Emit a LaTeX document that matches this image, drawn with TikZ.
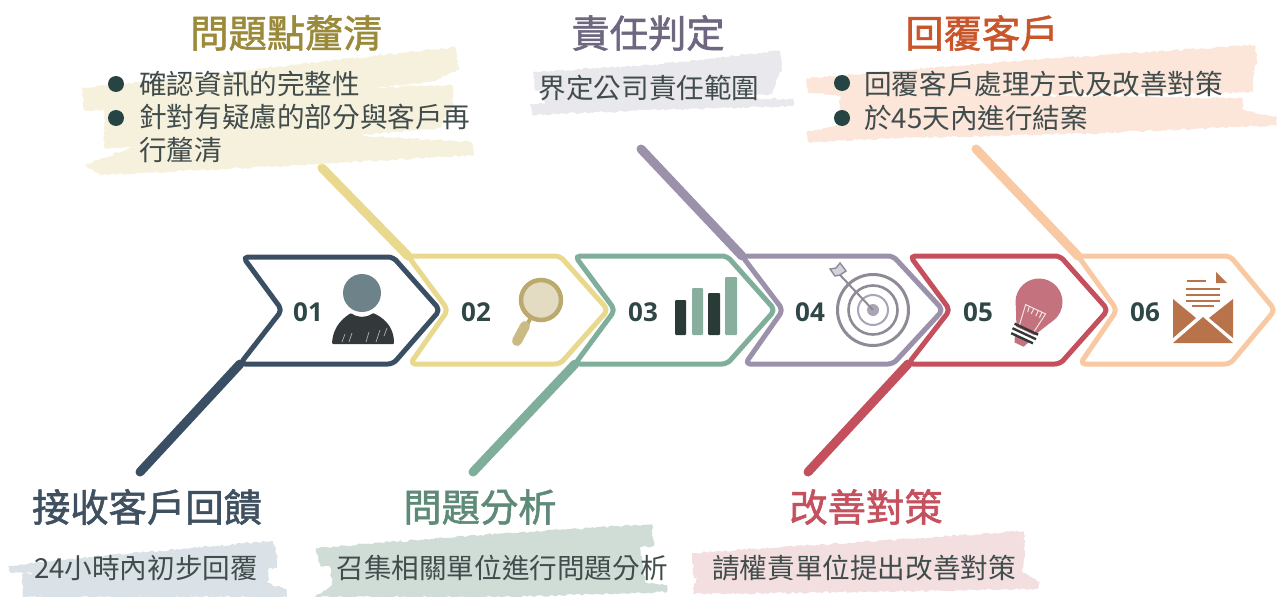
\documentclass[tikz,border=0pt]{standalone}
\usepackage{fontspec}
\usetikzlibrary{decorations.pathmorphing}
\newfontfamily\cjkf{Noto Sans CJK TC}
\newfontfamily\cjkm[FakeBold=1.5]{Noto Sans CJK TC}
\newfontfamily\numf{Open Sans}
\definecolor{cBlue}{HTML}{3A4F63}
\definecolor{cYel}{HTML}{E8D98F}
\definecolor{cGrn}{HTML}{7FAE9B}
\definecolor{cPur}{HTML}{9C91AA}
\definecolor{cRed}{HTML}{C4505E}
\definecolor{cOra}{HTML}{F8C9A2}
\definecolor{bYel}{HTML}{F6F1DC}
\definecolor{bPur}{HTML}{E9E8EC}
\definecolor{bOra}{HTML}{FBE6D9}
\definecolor{bBlue}{HTML}{DAE2E7}
\definecolor{bGrn}{HTML}{D0DDD7}
\definecolor{bRed}{HTML}{F4DFE0}
\definecolor{txtd}{HTML}{414C4C}
\definecolor{numc}{HTML}{2F4746}
\definecolor{bull}{HTML}{264443}
\definecolor{iHead}{HTML}{6E828A}
\definecolor{iBody}{HTML}{33393B}
\definecolor{iRing}{HTML}{BBAA6E}
\definecolor{iGlass}{HTML}{E3DCC2}
\definecolor{iHand}{HTML}{C9BB83}
\definecolor{iDark}{HTML}{2A3A36}
\definecolor{iLight}{HTML}{88AF9E}
\definecolor{iTgt}{HTML}{8F8A96}
\definecolor{iDot}{HTML}{A9A5B5}
\definecolor{iBulb}{HTML}{C4737E}
\definecolor{iEnv}{HTML}{B8734A}
\definecolor{tYel}{HTML}{9A8A3A}
\definecolor{tPur}{HTML}{6F6680}
\definecolor{tOra}{HTML}{C9562A}
\definecolor{tBlue}{HTML}{3F5060}
\definecolor{tGrn}{HTML}{5F8A78}
\definecolor{tRed}{HTML}{C5505E}
\tikzset{
  chev/.style={line width=5pt,rounded corners=5pt,line join=round},
  tailline/.style={line width=9pt,line cap=round},
  brush/.style={decorate,decoration={random steps,segment length=2.5pt,amplitude=1.1pt}},
  ttl/.style={inner sep=0pt,font=\cjkm\fontsize{38.3}{42}\selectfont},
  bodyt/.style={inner sep=0pt,text=txtd,font=\cjkf\fontsize{27.6}{31}\selectfont},
  numt/.style={inner sep=0pt,text=numc,font=\numf\bfseries\fontsize{26}{29}\selectfont},
  bulletdot/.style={circle,inner sep=0pt,minimum size=16pt,fill=bull},
}
\begin{document}
\begin{tikzpicture}[x=1pt,y=-1pt]
\useasboundingbox (0,0) rectangle (1277,597);
\fill[white] (0,0) rectangle (1277,597);
\pgfmathsetseed{11}
% tail ends
\coordinate (e1) at (140,472);
\coordinate (e2) at (322,168);
\coordinate (e3) at (473,472);
\coordinate (e4) at (641,149);
\coordinate (e5) at (808,472);
\coordinate (e6) at (976,149);
% chevron join points
\coordinate (j1) at (240,364);
\coordinate (j2) at (408,256);
\coordinate (j3) at (575,364);
\coordinate (j4) at (742,256);
\coordinate (j5) at (908,364);
\coordinate (j6) at (1078,256);
% tails under the brushes
\draw[tailline,cYel] (j2) -- (e2);
% brushes
\fill[bYel,brush] (82,88) -- (180,78) -- (320,62) -- (455,47) -- (459,70) -- (430,82) -- (300,96) -- (150,110) -- (84,110) -- cycle;
\fill[bYel,brush] (105,105) -- (300,90) -- (452,85) -- (454,105) -- (440,128) -- (300,140) -- (104,148) -- cycle;
\fill[bYel,brush] (84,165) -- (130,148) -- (300,132) -- (472,142) -- (474,155) -- (300,165) -- (100,175) -- cycle;
\fill[bPur,brush] (533,72) -- (650,65) -- (780,51) -- (782,70) -- (765,82) -- (640,92) -- (535,90) -- cycle;
\fill[bPur,brush] (540,86) -- (780,72) -- (772,94) -- (650,102) -- (545,106) -- cycle;
\fill[bPur,brush] (530,104) -- (650,98) -- (793,99) -- (793,106) -- (650,110) -- (532,115) -- cycle;
\fill[bOra,brush] (807,78) -- (1000,62) -- (1255,45) -- (1257,62) -- (1253,76) -- (1253,92) -- (1000,95) -- (840,96) -- (808,93) -- cycle;
\fill[bOra,brush] (840,94) -- (1243,98) -- (1243,110) -- (1277,117) -- (1277,125) -- (1100,133) -- (900,138) -- (808,142) -- (806,132) -- (840,125) -- cycle;
\fill[bBlue,brush] (8,566) -- (100,556) -- (273,541) -- (277,555) -- (277,568) -- (100,576) -- (10,572) -- cycle;
\fill[bBlue,brush] (22,574) -- (268,566) -- (268,583) -- (287,590) -- (287,597) -- (23,597) -- cycle;
\fill[bGrn,brush] (316,548) -- (480,535) -- (652,524) -- (654,546) -- (500,562) -- (320,566) -- cycle;
\fill[bGrn,brush] (330,562) -- (640,545) -- (645,582) -- (667,585) -- (667,592) -- (500,597) -- (315,597) -- (332,585) -- cycle;
\fill[bRed,brush] (692,553) -- (860,542) -- (1024,531) -- (1025,552) -- (1021,577) -- (850,582) -- (694,578) -- cycle;
\fill[bRed,brush] (700,574) -- (1021,572) -- (1040,582) -- (1037,589) -- (850,592) -- (693,594) -- (694,584) -- cycle;
% chevrons and tails
\draw[chev,cYel] (j2) -- (560,256) -- (608,310) -- (560,364) -- (410,364) -- (448,310) -- cycle;
\draw[chev,cBlue] (243,257) -- (393,257) -- (440,310) -- (393,364) -- (j1) -- (282,310) -- cycle;
\draw[tailline,cBlue] (j1) -- (e1);
\draw[chev,cGrn] (575,256) -- (727,256) -- (775,310) -- (727,364) -- (j3) -- (615,310) -- cycle;
\draw[tailline,cGrn] (j3) -- (e3);
\draw[chev,cPur] (j4) -- (893,256) -- (943,310) -- (893,364) -- (745,364) -- (783,310) -- cycle;
\draw[tailline,cPur] (j4) -- (e4);
\draw[chev,cOra] (j6) -- (1230,256) -- (1275,310) -- (1230,364) -- (1080,364) -- (1117,310) -- cycle;
\draw[tailline,cOra] (j6) -- (e6);
\draw[chev,cRed] (910,256) -- (1060,256) -- (1108,310) -- (1060,364) -- (j5) -- (950,310) -- cycle;
\draw[tailline,cRed] (j5) -- (e5);
% numbers
\node[numt] (n1) at (308,312) {01};
\node[numt] (n2) at (476,312) {02};
\node[numt] (n3) at (643,312) {03};
\node[numt] (n4) at (810,312) {04};
\node[numt] (n5) at (978,312) {05};
\node[numt] (n6) at (1145,312) {06};
% icon 01: person
\fill[iHead] (362,293) circle[radius=19pt];
\fill[iBody,rounded corners=1pt] (332,344) .. controls (333,325) and (345,317) .. (351,313) .. controls (358,318) and (366,318) .. (373,313) .. controls (382,317) and (394,325) .. (394,344) -- cycle;
\draw[white,line width=0.7pt,opacity=.6] (342,342) -- (345,334) (349,342) -- (352,333) (366,342) -- (369,332) (376,342) -- (380,330) (384,336) -- (387,328);
% icon 02: magnifier
\draw[iRing,fill=iGlass,line width=4.5pt] (541,300) circle[radius=20pt];
\draw[iRing,line width=4pt] (530,319) -- (527,325);
\draw[iHand,line width=10pt,line cap=round] (525,326) -- (517,341);
% icon 03: bars
\fill[iDark,rounded corners=1pt] (675,300) rectangle (686,335);
\fill[iLight,rounded corners=1pt] (692,288) rectangle (703,335);
\fill[iDark,rounded corners=1pt] (708,293) rectangle (720,335);
\fill[iLight,rounded corners=1pt] (725,277) rectangle (737,335);
% icon 04: target
\draw[iTgt,line width=3pt] (873,310) circle[radius=35.5pt];
\draw[iTgt,line width=2.6pt] (873,310) circle[radius=24.5pt];
\draw[iDot,line width=2pt] (873,310) circle[radius=15pt];
\fill[iDot] (873,310) circle[radius=6pt];
\draw[iTgt,line width=2pt] (873,310) -- (840,275);
\draw[iTgt,fill=iDot!50,line width=1.4pt] (840,275) -- (846,271) -- (840,263) -- (836,268) -- (830,269) -- (835,276) -- cycle;
% icon 05: bulb
\begin{scope}[shift={(1039,302)},rotate=-25]
  \fill[iBulb] (0,0) circle[radius=23.5pt];
  \fill[iBulb] (-20,12) -- (20,12) -- (10,32) -- (-10,32) -- cycle;
  \fill[iBulb] (-8,40) -- (8,40) -- (5,47) -- (-5,47) -- cycle;
  \draw[white,line width=1pt,opacity=.8] (-8,29) -- (-11,8) -- (11,8) -- (8,29);
  \draw[white,line width=1pt,opacity=.8] (-7,8) -- (-6,14) (-2,8) -- (-2,14) (3,8) -- (3,14) (7,8) -- (7,14);
  \draw[iBody,line width=2.4pt] (-13,30) -- (13,30) (-13,35) -- (13,35) (-12,40) -- (12,40);
\end{scope}
% icon 06: envelope
\fill[iEnv] (1173,299) -- (1196,318) -- (1173,338) -- cycle;
\fill[iEnv] (1233,299) -- (1209,318) -- (1233,338) -- cycle;
\fill[iEnv] (1173,343) -- (1203,317) -- (1233,343) -- cycle;
\fill[iEnv] (1216,272) -- (1227,283) -- (1216,283) -- cycle;
\draw[iEnv,line width=2.2pt] (1187,281) -- (1206,281) (1186,289) -- (1220,289) (1186,295) -- (1220,295) (1186,301) -- (1220,301) (1192,306) -- (1214,306);
% titles
\node[ttl,text=tYel] (t2) at (286,33) {問題點釐清};
\node[ttl,text=tPur] (t4) at (648,33) {責任判定};
\node[ttl,text=tOra] (t6) at (982,33) {回覆客戶};
\node[ttl,text=tBlue] (t1) at (147,507) {接收客戶回饋};
\node[ttl,text=tGrn] (t3) at (480,507) {問題分析};
\node[ttl,text=tRed] (t5) at (866,507) {改善對策};
% body text
\node[bulletdot] (b1) at (116,84) {};
\node[bulletdot] (b2) at (116,118) {};
\node[bodyt,anchor=west] (l1) at (139,84) {確認資訊的完整性};
\node[bodyt,anchor=west] (l2) at (139,117) {針對有疑慮的部分與客戶再};
\node[bodyt,anchor=west] (l3) at (139,150) {行釐清};
\node[bodyt] (l4) at (649,88) {界定公司責任範圍};
\node[bulletdot] (b3) at (842,83) {};
\node[bulletdot] (b4) at (842,118) {};
\node[bodyt,anchor=west] (l5) at (864,84) {回覆客戶處理方式及改善對策};
\node[bodyt,anchor=west] (l6) at (864,118) {於45天內進行結案};
\node[bodyt] (l7) at (146,568) {24小時內初步回覆};
\node[bodyt] (l8) at (502,568) {召集相關單位進行問題分析};
\node[bodyt] (l9) at (864,568) {請權責單位提出改善對策};
\end{tikzpicture}
\end{document}
